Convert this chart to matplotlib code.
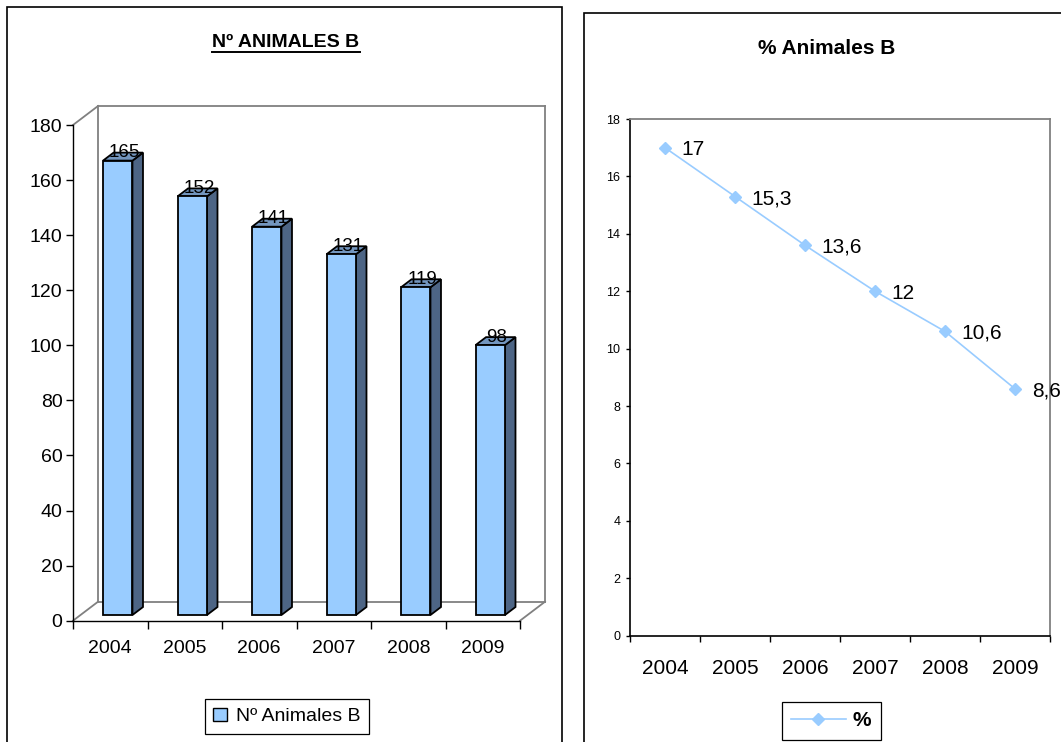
import numpy as np
import matplotlib
matplotlib.use('Agg')
from matplotlib import pyplot as plt
from matplotlib.patches import Rectangle, Polygon
from matplotlib.lines import Line2D

plt.rcParams['font.family'] = ['Liberation Sans', 'DejaVu Sans']

# data
years = ['2004', '2005', '2006', '2007', '2008', '2009']
animals_b = [165, 152, 141, 131, 119, 98]
pct_b = [17, 15.3, 13.6, 12, 10.6, 8.6]
pct_labels = ['17', '15,3', '13,6', '12', '10,6', '8,6']
bar_ticks = [0, 20, 40, 60, 80, 100, 120, 140, 160, 180]
pct_ticks = [0, 2, 4, 6, 8, 10, 12, 14, 16, 18]

W, H = 1061, 742
fig = plt.figure(figsize=(W / 100, H / 100), dpi=100)

def fx(px):
    return px / W

def fy(py):
    return 1 - py / H

# outer frames of both charts
fig.add_artist(Rectangle((fx(7), fy(770)), fx(562 - 7), (770 - 7) / H,
                         transform=fig.transFigure, fill=False, ec='black', lw=1.2))
fig.add_artist(Rectangle((fx(584), fy(770)), fx(1090 - 584), (770 - 13) / H,
                         transform=fig.transFigure, fill=False, ec='black', lw=1.2))

# ---------------- left: pseudo 3D columns ----------------
ax1 = fig.add_axes([fx(73), fy(620.7), fx(520) - fx(73), (620.7 - 125) / H])
ax1.set_xlim(-0.5, 5.5)
ax1.set_ylim(0, 180)
ax1.patch.set_visible(False)
for s in ['top', 'right']:
    ax1.spines[s].set_visible(False)
for s in ['left', 'bottom']:
    ax1.spines[s].set_linewidth(1.0)
    ax1.spines[s].set_zorder(6)

ax1.set_yticks(bar_ticks)
ax1.tick_params(axis='y', direction='out', length=5, width=1, labelsize=14, pad=2.5)
ax1.set_xticks(np.arange(7) - 0.5)
ax1.set_xticklabels([])
ax1.set_xticks(np.arange(6), minor=True)
ax1.set_xticklabels(years, minor=True)
ax1.tick_params(axis='x', which='major', direction='out', length=5.5, width=1)
ax1.tick_params(axis='x', which='minor', length=0, labelsize=14, pad=14)

# depth of the floor / walls in data units
DX, DY = 0.336, 6.9
wall = '#808080'
x0, x1 = -0.5, 5.5
wall_lines = [
    ([x0, x0 + DX], [180, 180 + DY]),
    ([x0 + DX, x1 + DX], [180 + DY, 180 + DY]),
    ([x1 + DX, x1 + DX], [180 + DY, DY]),
    ([x0 + DX, x0 + DX], [180 + DY, DY]),
    ([x0 + DX, x1 + DX], [DY, DY]),
    ([x0, x0 + DX], [0, DY]),
    ([x1, x1 + DX], [0, DY]),
]
for xs, ys in wall_lines:
    ax1.plot(xs, ys, color=wall, lw=1.3, clip_on=False, zorder=1)

bw = 0.395
start = 0.3
bdx, bdy = 0.42 * DX, 0.42 * DY
front_c, side_c, top_c = '#99CCFF', '#4D6585', '#7396BF'
for i, v in enumerate(animals_b):
    bx = i - bw / 2 + start * DX
    by = start * DY
    side = Polygon([(bx + bw, by), (bx + bw + bdx, by + bdy),
                    (bx + bw + bdx, by + v + bdy), (bx + bw, by + v)],
                   closed=True, fc=side_c, ec='black', lw=1.3, zorder=3, clip_on=False)
    top = Polygon([(bx, by + v), (bx + bw, by + v),
                   (bx + bw + bdx, by + v + bdy), (bx + bdx, by + v + bdy)],
                  closed=True, fc=top_c, ec='black', lw=1.3, zorder=3, clip_on=False)
    front = Rectangle((bx, by), bw, v, fc=front_c, ec='black', lw=1.3, zorder=4,
                      clip_on=False)
    ax1.add_patch(side)
    ax1.add_patch(top)
    ax1.add_patch(front)
    ax1.text(bx + bw / 2 + bdx / 2 + 0.02, by + v + bdy, str(v), ha='center',
             va='center', fontsize=13.5, zorder=7)

t1 = fig.text(fx(286), fy(47.3), 'Nº ANIMALES B', ha='center', va='baseline',
              fontsize=14, fontweight='bold')

leg1 = fig.legend(handles=[Rectangle((0, 0), 1, 1, fc=front_c, ec='black', lw=1.0)],
                  labels=['Nº Animales B'], loc='upper left',
                  bbox_to_anchor=(fx(204.6), fy(699)), bbox_transform=fig.transFigure,
                  fontsize=14, fancybox=False, framealpha=1, edgecolor='black',
                  borderaxespad=0, handlelength=0.7, handleheight=0.7,
                  handletextpad=0.45, borderpad=0.45)
leg1.get_frame().set_linewidth(0.9)

# ---------------- right: line chart ----------------
ax2 = fig.add_axes([fx(630), fy(635.7), fx(1050) - fx(630), (635.7 - 119) / H])
ax2.set_xlim(0, 6)
ax2.set_ylim(0, 18)
for s in ['top', 'right']:
    ax2.spines[s].set_color(wall)
    ax2.spines[s].set_linewidth(1.3)
for s in ['left', 'bottom']:
    ax2.spines[s].set_linewidth(1.2)
ax2.set_yticks(pct_ticks)
ax2.tick_params(axis='y', direction='out', length=3, width=1, labelsize=9, pad=4)
ax2.set_xticks(np.arange(7))
ax2.set_xticklabels([])
ax2.set_xticks(np.arange(6) + 0.5, minor=True)
ax2.set_xticklabels(years, minor=True)
ax2.tick_params(axis='x', which='major', direction='out', length=4.3, width=1)
ax2.tick_params(axis='x', which='minor', length=0, labelsize=15, pad=17)

xs = np.arange(len(pct_b)) + 0.5
line, = ax2.plot(xs, pct_b, color='#99CCFF', lw=1.2, marker='D', ms=6,
                 mfc='#99CCFF', mec='#99CCFF', label='%', clip_on=False, zorder=3)
for x, v, lbl in zip(xs, pct_b, pct_labels):
    ax2.annotate(lbl, (x, v), xytext=(12, -5.4), textcoords='offset points',
                 va='baseline', ha='left', fontsize=15, annotation_clip=False)

fig.text(fx(827), fy(54.3), '% Animales B', ha='center', va='baseline',
         fontsize=15, fontweight='bold')

leg2 = fig.legend(handles=[line], labels=['%'], loc='upper left',
                  bbox_to_anchor=(fx(782), fy(702)), bbox_transform=fig.transFigure,
                  prop={'size': 15, 'weight': 'bold'}, fancybox=False, framealpha=1,
                  edgecolor='black', borderaxespad=0, handlelength=2.6, numpoints=1,
                  handletextpad=0.35, borderpad=0.45)
leg2.get_frame().set_linewidth(0.9)

# underline of the left title
fig.canvas.draw()
bb = t1.get_window_extent()
fig.add_artist(Line2D([bb.x0 / W, bb.x1 / W], [fy(52), fy(52)],
                      transform=fig.transFigure, color='black', lw=1.4))

fig.savefig('out.png', dpi=100)
